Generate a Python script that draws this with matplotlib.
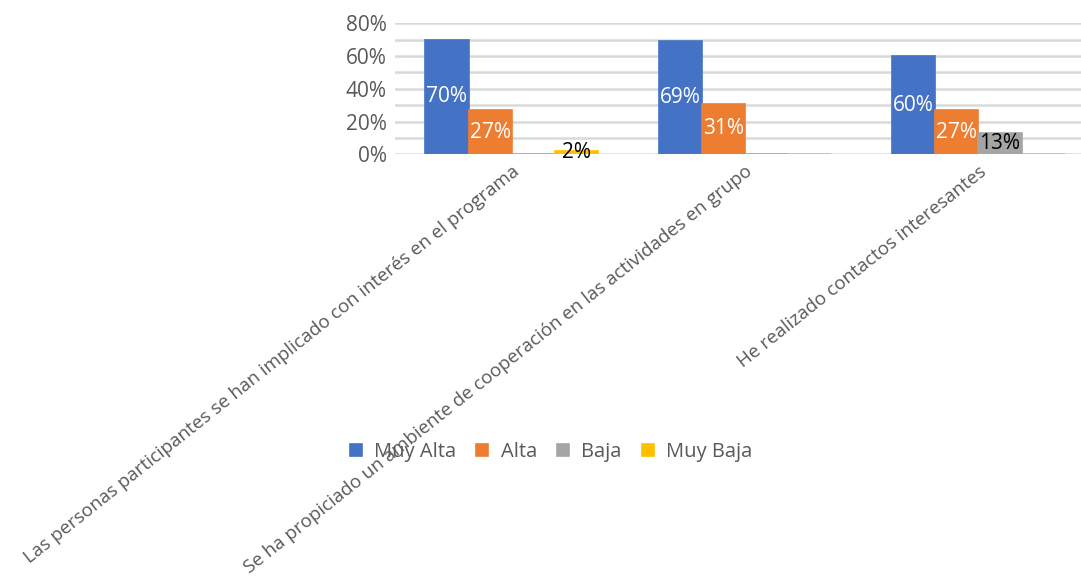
import numpy as np
import matplotlib.pyplot as plt
from matplotlib.ticker import MultipleLocator, PercentFormatter

plt.rcParams['font.family'] = ['Open Sans', 'DejaVu Sans']

categorias = [
    'Las personas participantes se han implicado con interés en el programa',
    'Se ha propiciado un ambiente de cooperación en las actividades en grupo',
    'He realizado contactos interesantes',
]
series = ['Muy Alta', 'Alta', 'Baja', 'Muy Baja']
muy_alta = [70, 69, 60]
alta = [27, 31, 27]
baja = [0, 0, 13]
muy_baja = [2, 0, 0]

colores = ['#4472C4', '#ED7D31', '#A5A5A5', '#FFC000']
color_texto = ['white', 'white', 'black', 'black']
gris = '#595959'

fig = plt.figure(figsize=(10.81, 5.79), dpi=100)
ax = fig.add_axes([395 / 1081, 1 - 154.3 / 579, 700 / 1081, 131 / 579])

x = np.arange(len(categorias))
ancho = 0.185
valores = [muy_alta, alta, baja, muy_baja]
for i, (nombre, vals) in enumerate(zip(series, valores)):
    pos = x - 1.5 * ancho + i * ancho
    alturas = np.array(vals) / 100
    # el borde del mismo color deja ver una línea fina en las barras a cero
    barras = ax.bar(pos, alturas, width=ancho, color=colores[i],
                    edgecolor=colores[i], linewidth=1.2, label=nombre, zorder=3)
    for b, v in zip(barras, vals):
        if v > 0:
            ax.text(b.get_x() + b.get_width() / 2, b.get_height() / 2, f'{v}%',
                    ha='center', va='center', fontsize=15,
                    color=color_texto[i], zorder=4)

ax.set_xlim(-0.5, len(categorias) - 0.5)
ax.set_ylim(0, 0.8)
ax.yaxis.set_major_locator(MultipleLocator(0.2))
ax.yaxis.set_minor_locator(MultipleLocator(0.1))
ax.yaxis.set_major_formatter(PercentFormatter(1.0, decimals=0))
ax.grid(axis='y', which='both', color='#D9D9D9', linewidth=1.8, zorder=0)
for s in ax.spines.values():
    s.set_visible(False)
ax.tick_params(axis='y', which='both', length=0, labelsize=15,
               labelcolor=gris, pad=6)
ax.tick_params(axis='x', length=0, pad=6)
ax.set_xticks(x)
ax.set_xticklabels(categorias, rotation=38.5, ha='right', va='top',
                   rotation_mode='anchor', fontsize=13.5, color=gris)

ax.legend(loc='center', bbox_to_anchor=(551 / 1081, 1 - 452 / 579),
          bbox_transform=fig.transFigure, ncol=4, frameon=False,
          fontsize=14.5, labelcolor=gris, handlelength=0.6, handleheight=0.6,
          handletextpad=0.6, columnspacing=1.0)

fig.savefig('out.png', dpi=100)
